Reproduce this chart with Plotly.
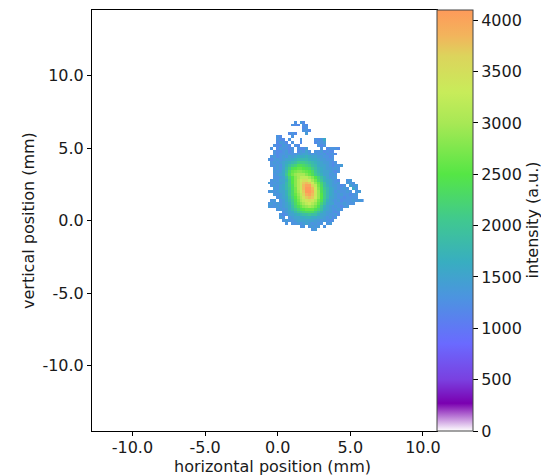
import plotly.graph_objects as go

# intensity in hundreds of a.u., rows from top (y=7.0 mm) to bottom, columns from x=-0.8 mm, 0.2 mm spacing
intensity_rows = [
[0,0,0,0,0,0,0,0,0,0,0,0,0,0,0,0,0,0,0,0,0,0,0,0,0,0,0,0,0,0,0,0,0,0],
[0,0,0,0,0,0,0,0,0,0,13,0,14,12,0,0,0,0,0,0,0,0,0,0,0,0,0,0,0,0,0,0,0,0],
[0,0,0,0,0,0,0,0,0,13,12,12,0,13,12,0,0,0,0,0,0,0,0,0,0,0,0,0,0,0,0,0,0,0],
[0,0,0,0,0,0,0,0,0,0,0,0,0,12,13,0,0,0,0,0,0,0,0,0,0,0,0,0,0,0,0,0,0,0],
[0,0,0,0,0,0,0,0,0,0,0,0,0,13,13,12,0,0,0,0,0,0,0,0,0,0,0,0,0,0,0,0,0,0],
[0,0,0,0,0,0,0,0,12,13,12,0,0,0,14,0,0,0,0,0,0,0,0,0,0,0,0,0,0,0,0,0,0,0],
[0,0,0,0,13,12,0,0,0,13,0,0,0,0,0,0,0,0,0,0,0,0,0,0,0,0,0,0,0,0,0,0,0,0],
[0,0,0,0,13,12,12,0,13,0,0,0,13,0,0,0,0,13,12,13,16,0,0,0,0,0,0,0,0,0,0,0,0,0],
[0,0,0,0,12,14,13,12,0,13,0,0,12,0,0,0,0,12,13,13,14,0,0,0,0,0,0,0,0,0,0,0,0,0],
[0,0,0,13,12,12,14,13,12,0,13,12,0,0,0,0,0,0,13,12,13,0,0,0,0,0,0,0,0,0,0,0,0,0],
[0,0,13,0,12,14,13,13,12,13,0,13,12,12,14,0,0,0,0,13,0,12,13,13,13,12,0,0,0,0,0,0,0,0],
[0,0,0,13,12,12,13,14,12,13,0,12,14,13,15,13,0,13,13,14,12,13,12,12,0,0,0,0,0,0,0,0,0,0],
[0,0,0,13,12,13,13,14,13,13,13,14,14,15,15,14,13,14,13,13,14,12,13,13,12,0,0,0,0,0,0,0,0,0],
[0,0,13,14,12,13,14,13,15,14,15,16,16,16,17,16,15,15,14,14,13,13,12,13,0,0,0,0,0,0,0,0,0,0],
[0,13,12,13,14,13,14,15,15,16,17,18,18,18,18,17,16,16,15,14,14,13,13,13,0,0,0,0,0,0,0,0,0,0],
[0,0,13,14,13,14,15,16,17,18,19,21,21,21,20,19,18,17,16,15,14,14,13,12,13,0,0,0,0,0,0,0,0,0],
[0,0,13,13,14,13,15,17,19,21,22,24,24,23,22,21,19,18,16,15,15,14,13,12,13,13,14,0,0,0,0,0,0,0],
[0,0,0,13,14,13,15,18,21,24,25,26,26,25,24,23,21,19,17,16,15,14,14,13,14,13,0,0,0,0,0,0,0,0],
[0,0,0,14,13,14,16,19,23,26,27,28,28,27,26,25,23,20,18,16,15,15,14,13,12,13,0,0,0,0,0,0,0,0],
[0,0,0,13,14,15,16,20,24,27,29,30,30,30,28,26,24,21,19,17,15,15,13,14,13,0,0,0,0,0,0,0,0,0],
[0,0,0,13,13,14,15,18,22,25,28,30,32,32,32,30,28,25,22,19,17,15,14,13,14,0,0,0,0,0,0,0,0,0],
[0,0,13,14,13,15,15,17,21,25,28,31,33,35,35,33,30,27,23,20,17,16,15,14,13,12,0,0,13,14,0,0,0,0],
[0,14,13,13,14,14,15,18,21,25,28,31,34,37,38,37,33,29,26,22,19,16,15,14,13,14,0,0,14,13,13,0,0,0],
[0,0,13,14,13,15,16,18,21,24,28,31,34,38,40,40,36,32,27,23,19,17,15,14,14,13,12,13,0,15,13,14,0,0],
[0,0,0,14,13,15,16,18,20,24,27,31,34,38,41,41,38,33,28,24,20,18,16,15,14,13,13,14,13,0,16,13,0,0],
[0,13,14,13,14,15,15,17,20,23,27,30,33,37,41,41,39,34,29,24,21,18,16,15,13,14,13,13,14,13,0,13,14,0],
[0,0,0,14,13,14,15,17,20,23,26,29,32,36,39,40,38,34,29,25,21,18,16,15,14,13,14,13,13,12,13,14,0,0],
[0,0,0,0,13,14,15,16,19,22,25,28,31,34,37,38,37,33,29,25,21,18,15,15,14,13,13,12,13,13,13,13,0,0],
[0,0,13,14,0,13,14,16,18,21,24,27,30,32,34,35,34,31,27,24,20,17,15,14,13,14,12,13,13,13,14,13,14,13],
[0,13,14,13,14,13,14,15,17,20,23,26,28,30,32,33,31,29,26,22,19,16,15,15,13,13,13,14,13,13,13,0,0,0],
[0,14,13,13,14,13,14,15,16,19,22,24,26,28,29,30,29,27,24,20,17,15,14,13,14,13,12,13,14,0,0,0,0,0],
[0,0,0,0,13,14,13,14,16,18,20,22,24,25,26,26,26,24,22,19,16,15,14,13,13,14,13,0,0,0,0,0,0,0],
[0,0,0,0,0,0,13,14,15,16,18,20,21,22,23,23,23,21,19,17,15,14,14,13,12,13,0,0,0,0,0,0,0,0],
[0,0,0,0,0,13,12,13,15,15,16,17,18,19,19,20,19,19,17,15,15,14,13,13,14,12,0,0,0,0,0,0,0,0],
[0,0,0,0,0,14,13,0,13,14,15,15,16,16,17,17,16,16,15,15,14,13,14,12,13,0,0,0,0,0,0,0,0,0],
[0,0,0,0,0,0,13,14,13,13,14,15,15,15,15,15,15,14,14,13,14,13,12,13,0,0,0,0,0,0,0,0,0,0],
[0,0,0,0,0,0,0,13,0,13,13,14,13,14,15,14,13,14,13,13,0,13,14,0,0,0,0,0,0,0,0,0,0,0],
[0,0,0,0,0,0,0,0,0,0,0,0,13,13,0,13,14,13,14,0,13,0,0,0,0,0,0,0,0,0,0,0,0,0],
[0,0,0,0,0,0,0,0,0,0,0,0,0,0,0,0,13,14,0,0,0,0,0,0,0,0,0,0,0,0,0,0,0,0],
[0,0,0,0,0,0,0,0,0,0,0,0,0,0,0,0,0,0,0,0,0,0,0,0,0,0,0,0,0,0,0,0,0,0],
]
x_start_mm = -0.8
y_start_mm = 7.0
step_mm = 0.2
pos_ticks = [-10, -5, 0, 5, 10]
pos_labels = ["-10.0", "-5.0", "0.0", "5.0", "10.0"]
cbar_ticks = [0, 500, 1000, 1500, 2000, 2500, 3000, 3500, 4000]
cmax = 4100
stops = [(0, "#ffffff"), (270, "#7a00b0"), (500, "#7a40e0"), (850, "#6a6aff"),
         (1300, "#4c94e0"), (1650, "#38aec0"), (2050, "#40c890"), (2500, "#55e645"),
         (3000, "#a8e855"), (3300, "#c8ec5a"), (3650, "#dcd45c"), (3850, "#f2b45c"), (4100, "#ff9a5a")]

z = [[v * 100 for v in r] for r in intensity_rows]
FONT = "DejaVu Sans"
SIZE = 16
INK = "#1a1a1a"
fig = go.Figure(go.Heatmap(
    z=z, x0=x_start_mm, dx=step_mm, y0=y_start_mm, dy=-step_mm,
    zmin=0, zmax=cmax,
    colorscale=[[v / cmax, c] for v, c in stops],
    colorbar=dict(
        x=344.5 / 380, xanchor="left", xref="paper", thickness=36, thicknessmode="pixels",
        y=0, yanchor="bottom", len=1, lenmode="fraction", xpad=0, ypad=0,
        outlinewidth=1, outlinecolor="#444",
        tickmode="array", tickvals=cbar_ticks, ticktext=[str(t) for t in cbar_ticks],
        ticks="outside", ticklen=5, tickwidth=1, tickcolor="black",
        tickfont=dict(family=FONT, size=SIZE, color=INK),
    ),
))
axis_common = dict(
    tickmode="array", tickvals=pos_ticks, ticktext=pos_labels, ticks="outside", ticklen=4,
    tickwidth=1, tickcolor="black", showgrid=False, zeroline=False, automargin=False,
    showline=True, linecolor="black", linewidth=1, mirror=True,
    tickfont=dict(family=FONT, size=SIZE, color=INK),
)
fig.update_layout(
    width=541, height=475, paper_bgcolor="white", plot_bgcolor="white",
    margin=dict(l=92, r=69, t=10, b=44),
    xaxis=dict(domain=[0, 344.5 / 380], range=[-12.78, 10.93], ticklabelstandoff=-2, **axis_common),
    yaxis=dict(range=[-14.5, 14.53], **axis_common),
    annotations=[
        dict(text="intensity (a.u.)", textangle=-90, xref="paper", yref="paper",
             x=(531.5 - 92) / 380, y=(431 - 220) / 421, xanchor="center", yanchor="middle",
             showarrow=False, font=dict(family=FONT, size=SIZE, color=INK)),
        dict(text="vertical position (mm)", textangle=-90, xref="paper", yref="paper",
             x=(28 - 92) / 380, y=(431 - 221) / 421, xanchor="center", yanchor="middle",
             showarrow=False, font=dict(family=FONT, size=SIZE, color=INK)),
        dict(text="horizontal position (mm)", xref="paper", yref="paper",
             x=(272 - 92) / 380, y=(431 - 466) / 421, xanchor="center", yanchor="middle",
             showarrow=False, font=dict(family=FONT, size=SIZE, color=INK)),
    ],
)
fig.write_html("out.html", config={"displayModeBar": False},
               post_script="document.body.style.margin='0';")
